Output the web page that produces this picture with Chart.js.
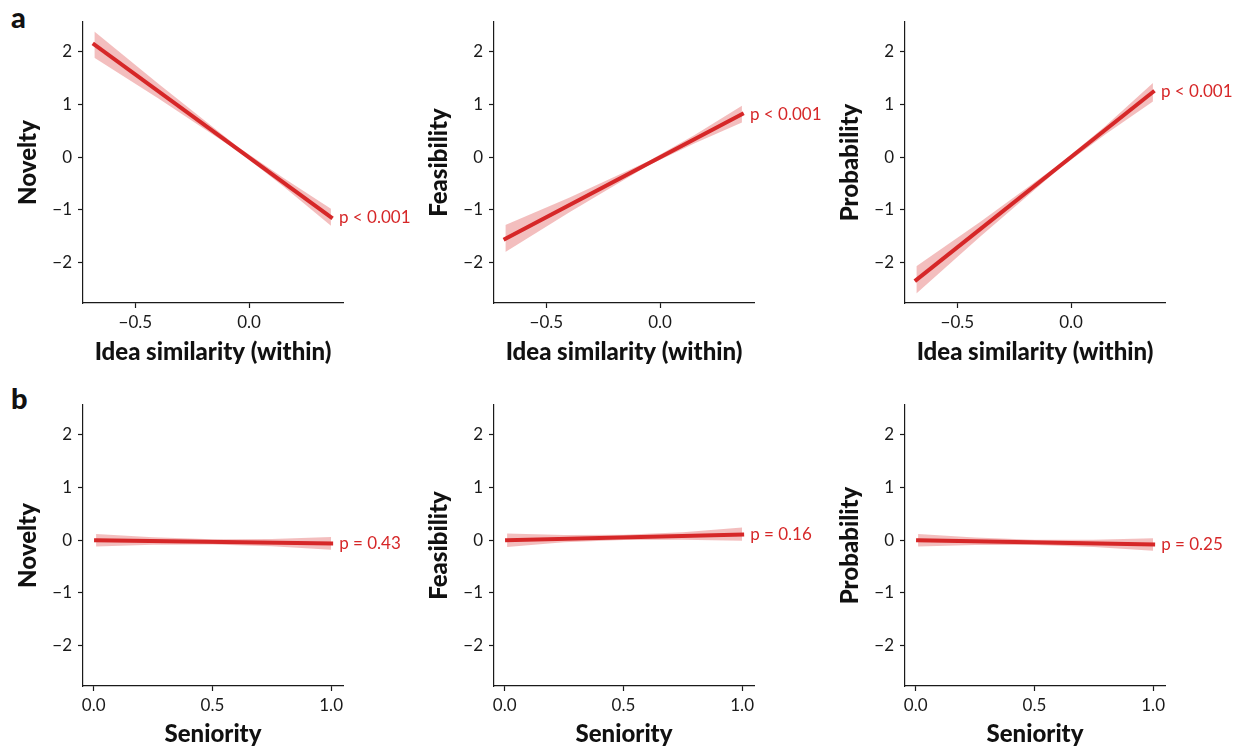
<!DOCTYPE html>
<html>
<head>
<meta charset="utf-8">
<script src="https://cdn.jsdelivr.net/npm/chart.js@4.4.1/dist/chart.umd.min.js"></script>
<style>
  body { margin: 0; background: #fff; width: 1239px; height: 751px; position: relative; overflow: hidden; font-family: Lato, sans-serif; }
  canvas { position: absolute; }
  .letter { position: absolute; font-weight: 900; font-size: 29px; color: #111; line-height: 1; }
</style>
</head>
<body>
<div class="letter" style="left:11px;top:2px">a</div>
<div class="letter" style="left:11px;top:383px">b</div>
<canvas id="a1"></canvas>
<canvas id="a2"></canvas>
<canvas id="a3"></canvas>
<canvas id="b1"></canvas>
<canvas id="b2"></canvas>
<canvas id="b3"></canvas>
<script>
// --- data ---
const outcomes = ['Novelty', 'Feasibility', 'Probability'];
const yTicks = [-2, -1, 0, 1, 2];

// row a: idea similarity (within)
const simLineX = [-0.68, 0.36];
const simNoveltyFit = [2.14, -1.14];
const simFeasibilityFit = [-1.55, 0.82];
const simProbabilityFit = [-2.33, 1.24];
const simBandX = [-0.68, -0.4, -0.05, 0.15, 0.36];
const simNoveltyUpper = [2.39, 1.40, 0.20, -0.39, -0.98];
const simNoveltyLower = [1.89, 1.12, 0.12, -0.55, -1.30];
const simFeasibilityUpper = [-1.29, -0.77, -0.07, 0.42, 0.98];
const simFeasibilityLower = [-1.80, -1.05, -0.15, 0.26, 0.66];
const simProbabilityUpper = [-2.07, -1.23, -0.13, 0.59, 1.41];
const simProbabilityLower = [-2.59, -1.51, -0.21, 0.43, 1.06];
const simPLabels = ['p < 0.001', 'p < 0.001', 'p < 0.001'];
const simXTicks = [-0.5, 0.0];

// row b: seniority
const senLineX = [0.01, 1.0];
const senNoveltyFit = [0.0, -0.06];
const senFeasibilityFit = [0.0, 0.11];
const senProbabilityFit = [0.0, -0.08];
const senBandX = [0.01, 0.25, 0.5, 0.75, 1.0];
const senNoveltyUpper = [0.12, 0.055, 0.02, 0.025, 0.06];
const senNoveltyLower = [-0.12, -0.085, -0.08, -0.115, -0.18];
const senFeasibilityUpper = [0.13, 0.10, 0.105, 0.15, 0.24];
const senFeasibilityLower = [-0.13, -0.04, 0.005, 0.01, -0.01];
const senProbabilityUpper = [0.12, 0.05, 0.01, 0.01, 0.04];
const senProbabilityLower = [-0.12, -0.09, -0.09, -0.13, -0.20];
const senPLabels = ['p = 0.43', 'p = 0.16', 'p = 0.25'];
const senXTicks = [0.0, 0.5, 1.0];

const RED = '#d62728';
const BAND = 'rgba(214,39,40,0.3)';
const INK = '#1a1a1a';

Chart.defaults.font.family = 'Lato, sans-serif';

const minus = s => s.replace('-', '\u2212');
const pts = (xs, ys) => xs.map((x, i) => ({ x: x, y: ys[i] }));

const pLabelPlugin = {
  id: 'pLabel',
  afterDatasetsDraw(chart, args, opts) {
    const pts = chart.data.datasets[0].data;
    const last = pts[pts.length - 1];
    const ctx = chart.ctx;
    ctx.save();
    ctx.font = '17px Lato, sans-serif';
    ctx.fillStyle = RED;
    ctx.textAlign = 'left';
    ctx.textBaseline = 'middle';
    ctx.fillText(opts.text, chart.scales.x.getPixelForValue(last.x) + 8, chart.scales.y.getPixelForValue(last.y));
    ctx.restore();
  }
};

function panel(id, left, top, height, row, lineX, fit, bandX, upper, lower, label, xTicks, xMin, xMax, xTitle, yTitle) {
  const cv = document.getElementById(id);
  cv.width = 416; cv.height = height;
  cv.style.left = left + 'px'; cv.style.top = top + 'px';
  const tickFont = { size: 17 };
  const titleFont = { size: 24, weight: '900' };
  const grid = { drawOnChartArea: false, drawTicks: true, tickLength: 5, tickColor: INK, tickWidth: 1.2 };
  const border = { display: true, color: INK, width: 1.2 };
  new Chart(cv, {
    type: 'line',
    data: {
      datasets: [
        { data: pts(lineX, fit), borderColor: RED, borderWidth: 4, borderCapStyle: 'square', pointRadius: 0, fill: false, tension: 0 },
        { data: pts(bandX, upper), borderColor: 'rgba(0,0,0,0)', borderWidth: 0, backgroundColor: BAND, pointRadius: 0, fill: '+1', tension: 0 },
        { data: pts(bandX, lower), borderColor: 'rgba(0,0,0,0)', borderWidth: 0, pointRadius: 0, fill: false, tension: 0 }
      ]
    },
    options: {
      responsive: false,
      animation: false,
      events: [],
      layout: { padding: { top: row.top, right: 73, left: 0, bottom: 0 } },
      plugins: { legend: { display: false }, tooltip: { enabled: false }, pLabel: { text: label } },
      scales: {
        x: {
          type: 'linear', min: xMin, max: xMax,
          afterBuildTicks: s => { s.ticks = xTicks.map(v => ({ value: v })); },
          afterFit: s => { s.height = row.xH; },
          ticks: { callback: v => minus(v.toFixed(1)), padding: 4, color: INK, font: tickFont, maxRotation: 0 },
          grid: grid, border: border,
          title: { display: true, text: xTitle, color: '#111', font: titleFont, padding: { top: 0, bottom: row.xTitlePad } }
        },
        y: {
          min: -2.77, max: 2.57,
          afterBuildTicks: s => { s.ticks = yTicks.map(v => ({ value: v })); },
          afterFit: s => { s.width = 83; },
          ticks: { callback: v => minus(String(v)), padding: 6, color: INK, font: tickFont },
          grid: grid, border: border,
          title: { display: true, text: yTitle, color: '#111', font: titleFont, padding: { top: 13.5, bottom: 0 } }
        }
      }
    },
    plugins: [pLabelPlugin]
  });
}

const rowA = { top: 22, xH: 67, xTitlePad: 3.5 };
const rowB = { top: 25, xH: 65, xTitlePad: 2.5 };
const lefts = [0, 411, 822];
const simFits = [simNoveltyFit, simFeasibilityFit, simProbabilityFit];
const simUps = [simNoveltyUpper, simFeasibilityUpper, simProbabilityUpper];
const simLows = [simNoveltyLower, simFeasibilityLower, simProbabilityLower];
const senFits = [senNoveltyFit, senFeasibilityFit, senProbabilityFit];
const senUps = [senNoveltyUpper, senFeasibilityUpper, senProbabilityUpper];
const senLows = [senNoveltyLower, senFeasibilityLower, senProbabilityLower];

for (let i = 0; i < 3; i++) {
  panel('a' + (i + 1), lefts[i], 0, 370, rowA, simLineX, simFits[i], simBandX, simUps[i], simLows[i],
        simPLabels[i], simXTicks, -0.73, 0.413, 'Idea similarity (within)', outcomes[i]);
  panel('b' + (i + 1), lefts[i], 380, 371, rowB, senLineX, senFits[i], senBandX, senUps[i], senLows[i],
        senPLabels[i], senXTicks, -0.045, 1.05, 'Seniority', outcomes[i]);
}
</script>
</body>
</html>
